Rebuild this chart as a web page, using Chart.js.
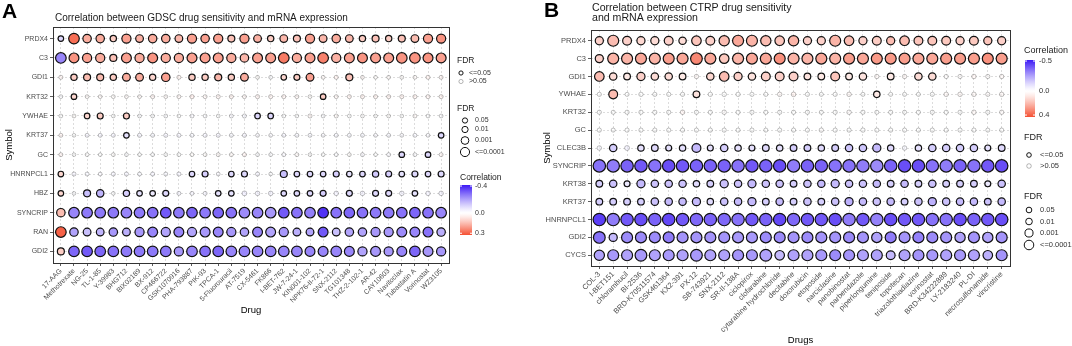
<!DOCTYPE html>
<html>
<head>
<meta charset="utf-8">
<script src="https://cdn.jsdelivr.net/npm/chart.js@4.4.1/dist/chart.umd.min.js"></script>
<style>
  body { margin: 0; background: #fff; }
  #wrap { position: relative; width: 1072px; height: 346px; overflow: hidden; }
  canvas { position: absolute; top: 0; }
</style>
</head>
<body>
<div id="wrap">
  <canvas id="chartA" width="540" height="346" style="left:0"></canvas>
  <canvas id="chartB" width="532" height="346" style="left:540px"></canvas>
</div>
<script>
// ---- panel A : GDSC ----
const drugsA = ['17-AAG', 'Methotrexate', 'NG-25', 'TL-1-85', 'Y-39983', 'BHG712', 'BIX02189', 'BX-912',
  'CP466722', 'GSK1070916', 'PHA-793887', 'PIK-93', 'TPCA-1', '5-Fluorouracil', 'AT-7519', 'CX-5461',
  'FK866', 'I-BET-762', 'JW-7-24-1', 'KIN001-102', 'NPK76-II-72-1', 'SNX-2112', 'TG101348',
  'THZ-2-102-1', 'AR-42', 'CAY10603', 'Navitoclax', 'Tubastatin A', 'Vorinostat', 'WZ3105'];
const genesA = ['PRDX4', 'C3', 'GDI1', 'KRT32', 'YWHAE', 'KRT37', 'GC', 'HNRNPCL1', 'HBZ', 'SYNCRIP', 'RAN', 'GDI2'];

// correlation, one row per gene (same order as genesA)
const corrA = [
  [-0.1,0.28,0.18,0.18,0.12,0.2,0.17,0.18,0.18,0.16, 0.2,0.2,0.2,0.14,0.2,0.17,0.12,0.16,0.14,0.2, 0.16,0.18,0.16,0.12,0.14,0.12,0.14,0.15,0.2,0.22],
  [-0.25,0.22,0.2,0.18,0.14,0.2,0.18,0.22,0.18,0.18, 0.2,0.2,0.2,0.18,0.16,0.2,0.2,0.26,0.18,0.2, 0.25,0.17,0.2,0.22,0.2,0.2,0.22,0.22,0.22,0.2],
  [0.05,0.12,0.15,0.15,0.12,0.18,0.18,0.1,0.2,0.06, 0.12,0.12,0.16,0.12,0.18,0.02,-0.02,0.1,0.12,0.2, 0.03,0.06,0.14,0.04,0.02,0.03,0.02,0.03,0.06,0.05],
  [-0.02,0.1,0.03,0.03,0.02,0.03,0.03,0.05,0.03,0.04, 0.07,0.04,0.05,0.06,0.04,0.05,0.05,0.05,0.04,0.02, 0.12,0.04,0.06,0.06,0.06,0.06,0.06,0.06,0.05,0.06],
  [0,0.02,0.1,0.12,0,0.12,-0.02,-0.01,-0.02,0, -0.03,-0.02,0,-0.03,-0.04,-0.1,-0.1,-0.01,-0.01,0.04, -0.02,0.03,0,0.01,0,0.02,0,0.03,-0.01,-0.02],
  [0.05,0,-0.05,-0.05,-0.05,-0.08,-0.05,-0.04,-0.05,-0.05, -0.04,-0.05,-0.05,-0.04,-0.05,-0.03,-0.03,-0.05,-0.04,-0.04, -0.03,-0.04,-0.04,-0.04,-0.03,-0.04,-0.03,-0.04,-0.03,-0.1],
  [0.05,0,0.01,0,0.02,-0.02,0,-0.01,0,0, 0.02,0.02,0.03,0.03,0.05,-0.02,-0.02,-0.03,0.03,0.01, 0,-0.02,0.02,-0.03,0,-0.03,-0.1,-0.02,-0.1,0.04],
  [0.1,-0.05,-0.04,-0.03,-0.05,-0.05,-0.04,-0.05,-0.04,-0.05, -0.1,-0.12,-0.03,-0.1,-0.1,-0.05,-0.02,-0.15,-0.1,-0.1, -0.1,-0.12,-0.08,-0.1,-0.13,-0.12,-0.08,-0.1,-0.1,-0.1],
  [0.1,-0.02,-0.15,-0.17,-0.01,-0.12,-0.08,-0.06,-0.1,-0.05, -0.05,-0.05,-0.08,-0.08,-0.08,-0.06,-0.06,-0.1,-0.1,-0.1, -0.12,-0.06,-0.1,-0.06,-0.1,-0.1,-0.06,-0.08,-0.06,-0.06],
  [0.15,-0.25,-0.27,-0.27,-0.27,-0.25,-0.27,-0.28,-0.32,-0.27, -0.3,-0.27,-0.3,-0.28,-0.24,-0.25,-0.22,-0.32,-0.28,-0.26, -0.38,-0.28,-0.3,-0.28,-0.27,-0.27,-0.28,-0.3,-0.28,-0.25],
  [0.3,-0.2,-0.15,-0.17,-0.22,-0.18,-0.22,-0.25,-0.2,-0.25, -0.2,-0.22,-0.25,-0.22,-0.2,-0.25,-0.2,-0.22,-0.18,-0.2, -0.32,-0.15,-0.2,-0.2,-0.22,-0.22,-0.24,-0.25,-0.28,-0.18],
  [0.12,-0.3,-0.32,-0.3,-0.28,-0.27,-0.27,-0.27,-0.27,-0.22, -0.25,-0.28,-0.3,-0.25,-0.25,-0.25,-0.25,-0.25,-0.25,-0.25, -0.25,-0.25,-0.25,-0.2,-0.22,-0.22,-0.25,-0.3,-0.22,-0.22]
];
// -log10(FDR), same layout
const logFdrA = [
  [1.5,5,3.5,3.5,2,4,3,3.5,3.5,3, 4,3.5,4,2.5,4,3,2,3,2.5,4, 3,3.5,3,2,2.5,2,2.5,3,4,4],
  [5,4.5,4,4,2.5,4.5,4,4.5,4,4, 4.5,4.5,4.5,4,3.5,4.5,4.5,5,4,4.5, 5,4,4.5,4.5,4.5,4.5,5,5,4.5,4.5],
  [0.5,2,2.5,2.5,2,3,3,2,3.5,0.5, 2,2,2.5,2,3,0.3,0.3,1.5,1.8,3, 0.3,0.5,2.5,0.3,0.2,0.3,0.3,0.3,0.5,0.4],
  [0.3,1.5,0.3,0.3,0.3,0.3,0.3,0.5,0.3,0.4, 0.6,0.4,0.5,0.5,0.4,0.5,0.5,0.5,0.4,0.3, 1.5,0.4,0.5,0.5,0.5,0.5,0.5,0.5,0.5,0.5],
  [0.3,0.3,1.5,1.8,0.2,1.8,0.3,0.3,0.3,0.2, 0.4,0.3,0.2,0.4,0.5,1.5,1.5,0.3,0.2,0.5, 0.3,0.4,0.3,0.3,0.2,0.3,0.2,0.4,0.3,0.3],
  [0.4,0.2,0.4,0.4,0.4,1.5,0.5,0.4,0.5,0.5, 0.4,0.5,0.5,0.4,0.5,0.3,0.3,0.4,0.4,0.4, 0.3,0.4,0.4,0.4,0.3,0.4,0.3,0.4,0.3,1.5],
  [0.4,0.2,0.3,0.2,0.3,0.3,0.2,0.3,0.3,0.3, 0.3,0.3,0.4,0.4,0.5,0.3,0.3,0.4,0.4,0.2, 0.2,0.3,0.3,0.4,0.2,0.4,1.5,0.3,1.5,0.4],
  [1.5,0.5,0.4,0.3,0.5,0.5,0.4,0.5,0.4,0.5, 1.5,1.8,0.3,1.5,1.8,0.5,0.2,2.5,1.5,1.5, 1.5,1.8,1.5,1.5,2,1.8,1.5,1.8,1.5,1.8],
  [1.5,0.2,2.5,2.8,0.2,2,1.5,1.5,1.8,0.4, 0.4,0.4,1.5,1.5,1,0.8,0.8,1.5,1.5,1.5, 1.8,0.8,1.8,0.8,1.8,1.8,0.8,1.5,0.8,0.8],
  [3.5,5,5,5,5,5,5,5,5,5, 5,5,5,5,5,5,5,5,5,5, 5,5,5,5,5,5,5,5,5,5],
  [5,3.5,3,3,3.5,3,4,4.5,4,4.5, 4,4.5,4.5,4,3.5,4.5,4.5,4,3,3, 4.5,3,3.5,3.5,4,4,4.5,4.5,4.5,3.5],
  [2.5,5,5,5,5,5,5,5,5,4, 5,5,5,5,5,5,5,5,5,4.5, 4.5,5,4.5,4,4.5,4,4.5,5,4.5,4]
];

// ---- panel B : CTRP ----
const drugsB = ['COL-3', 'I-BET151', 'chlorambucil', 'BI-2536', 'BRD-K70511574', 'GSK461364', 'KX2-391',
  'PX-12', 'SB-743921', 'SNX-2112', 'SR-II-138A', 'ciclopirox', 'clofarabine', 'cytarabine hydrochloride',
  'decitabine', 'doxorubicin', 'etoposide', 'narciclasine', 'panobinostat', 'parbendazole',
  'piperlongumine', 'teniposide', 'topotecan', 'triazolothiadiazine', 'vorinostat', 'BRD-K34222889',
  'LY-2183240', 'PL-DI', 'necrosulfonamide', 'vincristine'];
const genesB = ['PRDX4', 'C3', 'GDI1', 'YWHAE', 'KRT32', 'GC', 'CLEC3B', 'SYNCRIP', 'KRT38', 'KRT37', 'HNRNPCL1', 'GDI2', 'CYCS'];

const corrB = [
  [0.15,0.2,0.15,0.13,0.12,0.15,0.12,0.18,0.15,0.2, 0.25,0.22,0.2,0.18,0.22,0.15,0.15,0.22,0.2,0.15, 0.16,0.2,0.2,0.18,0.18,0.17,0.15,0.17,0.18,0.15],
  [0.15,0.22,0.22,0.25,0.22,0.27,0.25,0.32,0.25,0.17, 0.22,0.25,0.25,0.3,0.22,0.22,0.25,0.22,0.27,0.25, 0.28,0.28,0.27,0.25,0.25,0.27,0.27,0.27,0.3,0.27],
  [0.2,0.12,0.08,0.15,0.12,0.12,0.08,0.05,0.13,0.2, 0.15,0.1,0.15,0.15,0.15,0.1,0.08,0.18,0.08,0.1, 0.05,0.08,0.05,0.12,0.12,0.02,0.02,0.06,0.02,0.05],
  [0,0.2,0,0,0,0,0,0.1,0,0, 0,0,0,0.05,0.08,0,0,0,0.05,0, 0.08,0,0,0,0,0.05,0.05,0.05,0.03,0.05],
  [0,0,0,0,0,0,0.06,0,0,0.02, 0,0,0,0,0,0,0,0,0.03,0, 0,0,0,0,0,0,0,0.05,0,0.03],
  [0,0,0,0,0,0,0,0,0,0, 0,0,0,0,0,0,0.02,0,0,0, 0,0,0,0,0,0,0,0,0,0],
  [-0.05,-0.15,-0.08,-0.1,-0.12,-0.1,-0.1,-0.2,-0.1,-0.15, -0.1,-0.1,-0.12,-0.1,-0.15,-0.15,-0.12,-0.15,-0.17,-0.17, -0.2,-0.12,-0.05,-0.1,-0.15,-0.15,-0.15,-0.15,-0.1,-0.12],
  [-0.35,-0.33,-0.38,-0.4,-0.35,-0.42,-0.4,-0.38,-0.38,-0.38, -0.35,-0.4,-0.38,-0.42,-0.33,-0.38,-0.38,-0.35,-0.35,-0.33, -0.3,-0.38,-0.42,-0.42,-0.35,-0.33,-0.38,-0.35,-0.4,-0.42],
  [-0.15,-0.18,-0.08,-0.2,-0.18,-0.18,-0.18,-0.12,-0.15,-0.18, -0.18,-0.2,-0.18,-0.18,-0.15,-0.18,-0.2,-0.2,-0.18,-0.18, -0.2,-0.15,-0.2,-0.15,-0.18,-0.15,-0.15,-0.15,-0.08,-0.18],
  [-0.15,-0.15,-0.15,-0.15,-0.18,-0.2,-0.2,-0.2,-0.12,-0.18, -0.2,-0.2,-0.15,-0.2,-0.15,-0.18,-0.15,-0.18,-0.22,-0.2, -0.18,-0.2,-0.15,-0.18,-0.22,-0.18,-0.2,-0.2,-0.18,-0.2],
  [-0.45,-0.33,-0.4,-0.42,-0.38,-0.43,-0.4,-0.37,-0.38,-0.37, -0.35,-0.4,-0.38,-0.43,-0.37,-0.4,-0.4,-0.42,-0.33,-0.4, -0.32,-0.42,-0.4,-0.4,-0.35,-0.35,-0.42,-0.38,-0.4,-0.42],
  [-0.35,-0.2,-0.3,-0.3,-0.3,-0.33,-0.28,-0.28,-0.28,-0.28, -0.27,-0.27,-0.3,-0.3,-0.28,-0.3,-0.28,-0.28,-0.3,-0.28, -0.25,-0.33,-0.28,-0.32,-0.3,-0.28,-0.25,-0.28,-0.25,-0.28],
  [-0.25,-0.27,-0.25,-0.27,-0.25,-0.27,-0.25,-0.27,-0.25,-0.25, -0.28,-0.27,-0.25,-0.2,-0.25,-0.25,-0.27,-0.3,-0.28,-0.25, -0.25,-0.2,-0.25,-0.28,-0.27,-0.25,-0.27,-0.25,-0.22,-0.28]
];
const logFdrB = [
  [3,5,3.5,3,3,3.5,2.5,4,3.5,4.5, 5,5,4.5,4,4.5,3,3,5,4,3, 3.5,3,4,3.5,3.5,3.5,3,3.5,3,3],
  [3,5,5,5,5,5,5,5.5,5,4, 5,5,5,5,5,5,5,5,5,5, 5,5,5,5,5,5,5,5,5,5],
  [4,2.5,2,3,2.5,2.5,2,0.4,2.5,4, 3,2.5,3.5,3.5,3.5,2,2,3.5,2,2.5, 0.4,2,0.4,2.5,2.5,0.3,0.3,0.5,0.3,0.4],
  [0.3,3.5,0.2,0.4,0.3,0.3,0.3,2,0.4,0.5, 0.4,0.3,0.3,0.5,0.6,0.3,0.2,0.3,0.5,0.2, 1.8,0.2,0.2,0.2,0.3,0.5,0.5,0.5,0.3,0.5],
  [0.3,0.2,0.3,0.3,0.3,0.3,0.5,0.3,0.3,0.5, 0.3,0.3,0.3,0.3,0.3,0.3,0.2,0.3,0.5,0.3, 0.2,0.3,0.2,0.3,0.3,0.3,0.3,0.5,0.3,0.4],
  [0.3,0.2,0.3,0.3,0.3,0.3,0.3,0.3,0.3,0.3, 0.3,0.3,0.2,0.3,0.3,0.3,0.4,0.3,0.3,0.4, 0.3,0.3,0.3,0.3,0.3,0.3,0.3,0.3,0.2,0.3],
  [0.5,2.5,0.8,1.8,2,1.5,1.8,3.5,1.5,2.5, 1.8,1.5,2,1.8,2,2,1.8,2,2.5,2.5, 3,1.8,0.5,1.8,2.5,2.5,2.5,2.5,1.5,2],
  [6,6,6,6,6,6,6,6,6,6, 6,6,6,6,6,6,6,6,6,6, 6,6,6,6,6,6,6,6,6,6],
  [2,2.5,1.5,3,2.5,2.5,2.5,1.8,2,3, 2.5,3,2.5,2.5,2,2.5,2.5,3,2.5,2.5, 2.5,2,2.5,2,2.5,2,2,2,1.5,2.5],
  [2,2,2,2,2.5,2.5,2.5,3,1.8,2.5, 2.5,3,2,2.5,2,2.5,2,2.5,3,2.5, 2.5,2.5,2,2.5,3,2.5,2.5,2.5,2,2.5],
  [6,6,6,6,6,6,6,6,6,6, 6,6,6,6,6,6,6,6,6,6, 6,6,6,6,6,6,6,6,6,6],
  [5.5,3,5,5,5,5,5,5,5,5, 5,5,5,5,5,5,5,5,5,5, 4.5,5,5,5,5,5,4.5,5,4.5,5],
  [4.5,5,5,5.5,5,5,5,5.5,5,5, 5,5,5.5,4,5,5,5,5,5,5, 5,3.5,5,5,5,5,5,5,4,5]
];

const FONT = "'Liberation Sans', Arial, sans-serif";
const sizeLegend = [1.3, 2, 3, 4];   // -log10 of 0.05, 0.01, 0.001, 0.0001
const sizeLabels = ['0.05', '0.01', '0.001', '<=0.0001'];

// colour scale: blue (negative) - white - red (positive)
function corrColor(v, lim, alpha) {
  let base, t;
  if (v < 0) { base = [60, 25, 245]; t = Math.min(1, v / lim[0]); }
  else { base = [245, 80, 50]; t = Math.min(1, v / lim[1]); }
  t = Math.pow(t, 1.25);
  const c = base.map(b => Math.round(255 + (b - 255) * t));
  return 'rgba(' + c[0] + ',' + c[1] + ',' + c[2] + ',' + alpha + ')';
}

function buildPoints(drugs, genes, corr, logFdr, rad) {
  const pts = [];
  genes.forEach((g, i) => {
    drugs.forEach((d, j) => {
      const lf = logFdr[i][j];
      pts.push({ x: j, y: i, r: rad(lf), cor: corr[i][j], sig: lf >= 1.3 });
    });
  });
  return pts;
}

function txt(ctx, s, x, y, size, color, align, base, bold) {
  ctx.font = (bold ? 'bold ' : '') + size + 'px ' + FONT;
  ctx.fillStyle = color;
  ctx.textAlign = align || 'left';
  ctx.textBaseline = base || 'alphabetic';
  ctx.fillText(s, x, y);
}

function circle(ctx, x, y, r, stroke, fill) {
  ctx.beginPath();
  ctx.arc(x, y, r, 0, Math.PI * 2);
  ctx.fillStyle = fill || '#fff';
  ctx.fill();
  ctx.lineWidth = 1;
  ctx.strokeStyle = stroke;
  ctx.stroke();
}

function colorBar(ctx, x, y0, w, h, lim, ticks, labelX, fs) {
  const g = ctx.createLinearGradient(0, y0, 0, y0 + h);
  for (let k = 0; k <= 40; k++) {
    const v = lim[0] + (lim[1] - lim[0]) * k / 40;
    g.addColorStop(k / 40, corrColor(v, lim, 1));
  }
  ctx.fillStyle = g;
  ctx.fillRect(x, y0, w, h);
  ticks.forEach(tk => {
    const y = y0 + (tk[0] - lim[0]) / (lim[1] - lim[0]) * h;
    ctx.strokeStyle = '#fff';
    ctx.lineWidth = 1;
    ctx.beginPath();
    ctx.moveTo(x, y); ctx.lineTo(x + 2, y);
    ctx.moveTo(x + w - 2, y); ctx.lineTo(x + w, y);
    ctx.stroke();
    txt(ctx, tk[1], labelX, y, fs, '#333', 'left', 'middle');
  });
}

function makeChart(id, drugs, genes, corr, logFdr, cfg) {
  const pts = buildPoints(drugs, genes, corr, logFdr, cfg.rad);
  const style = {
    backgroundColor: c => corrColor(c.raw.cor, cfg.lim, c.raw.sig ? 1 : 0.45),
    borderColor: c => c.raw.sig ? '#111' : 'rgba(0,0,0,0.28)',
    borderWidth: c => c.raw.sig ? 1.2 : 0.9,
    clip: false
  };
  const grid = { color: '#d4d4d4', lineWidth: 0.8, tickLength: 3, tickColor: '#333', drawTicks: true };
  return new Chart(document.getElementById(id), {
    type: 'bubble',
    data: {
      datasets: [
        Object.assign({ data: pts.filter(p => !p.sig) }, style),
        Object.assign({ data: pts.filter(p => p.sig) }, style)
      ]
    },
    options: {
      responsive: false,
      animation: false,
      events: [],
      layout: { padding: { top: cfg.top, right: cfg.right, left: 0, bottom: 0 } },
      plugins: { legend: { display: false }, tooltip: { enabled: false } },
      scales: {
        x: {
          type: 'linear', min: -0.6, max: drugs.length - 0.4,
          afterBuildTicks: s => { s.ticks = drugs.map((d, i) => ({ value: i })); },
          afterFit: s => { s.height = cfg.xH; },
          grid: grid,
          border: { display: false, dash: [2, 2] },
          ticks: {
            autoSkip: false, minRotation: 45, maxRotation: 45, padding: 1,
            font: { family: FONT, size: cfg.tickSize }, color: '#4d4d4d',
            callback: v => drugs[v]
          }
        },
        y: {
          type: 'linear', reverse: true, min: -0.6, max: genes.length - 0.4,
          afterBuildTicks: s => { s.ticks = genes.map((g, i) => ({ value: i })); },
          afterFit: s => { s.width = cfg.yW; },
          grid: grid,
          border: { display: false, dash: [2, 2] },
          ticks: {
            autoSkip: false, padding: 2,
            font: { family: FONT, size: cfg.tickSize }, color: '#4d4d4d',
            callback: v => genes[v]
          }
        }
      }
    },
    plugins: [{
      id: 'decor' + id,
      afterDraw(chart) {
        const ctx = chart.ctx, a = chart.chartArea;
        ctx.save();
        ctx.strokeStyle = '#333';
        ctx.lineWidth = 1;
        ctx.strokeRect(Math.round(a.left) + 0.5, Math.round(a.top) + 0.5,
          Math.round(a.right - a.left), Math.round(a.bottom - a.top));
        cfg.decor(ctx, a);
        ctx.restore();
      }
    }]
  });
}

const radA = lf => 1.7 + 0.72 * Math.min(lf, 5);
const radB = lf => 1.9 + 0.72 * Math.min(lf, 6);
const limA = [-0.415, 0.326];
const limB = [-0.517, 0.433];

makeChart('chartA', drugsA, genesA, corrA, logFdrA, {
  rad: radA, lim: limA, top: 27, right: 91, xH: 83, yW: 53, tickSize: 7,
  decor(ctx, a) {
    txt(ctx, 'A', 2, 18, 21, '#000', 'left', 'alphabetic', true);
    txt(ctx, 'Correlation between GDSC drug sensitivity and mRNA expression', 55, 20.5, 10, '#1a1a1a');
    ctx.save();
    ctx.translate(9, (a.top + a.bottom) / 2);
    ctx.rotate(-Math.PI / 2);
    txt(ctx, 'Symbol', 0, 0, 9.5, '#000', 'center', 'middle');
    ctx.restore();
    txt(ctx, 'Drug', (a.left + a.right) / 2, 310, 9.5, '#000', 'center', 'middle');
    // FDR (significance)
    txt(ctx, 'FDR', 457, 63, 8.5, '#222');
    circle(ctx, 461, 73, 2.1, '#111');
    txt(ctx, '<=0.05', 469, 73, 7, '#333', 'left', 'middle');
    circle(ctx, 461, 81.5, 2.1, 'rgba(0,0,0,0.28)');
    txt(ctx, '>0.05', 469, 81.5, 7, '#333', 'left', 'middle');
    // FDR (size)
    txt(ctx, 'FDR', 457, 111, 8.5, '#222');
    const ys = [120.5, 129.5, 140.5, 152];
    sizeLegend.forEach((lf, k) => {
      circle(ctx, 465, ys[k], radA(lf), '#111');
      txt(ctx, sizeLabels[k], 475, ys[k], 7, '#333', 'left', 'middle');
    });
    // Correlation
    txt(ctx, 'Correlation', 460, 180, 8.5, '#222');
    colorBar(ctx, 460, 185, 12, 50, limA, [[-0.4, '-0.4'], [0, '0.0'], [0.3, '0.3']], 475, 7);
  }
});

makeChart('chartB', drugsB, genesB, corrB, logFdrB, {
  rad: radB, lim: limB, top: 30, right: 62, xH: 80, yW: 51, tickSize: 7.5,
  decor(ctx, a) {
    txt(ctx, 'B', 4, 17, 21, '#000', 'left', 'alphabetic', true);
    txt(ctx, 'Correlation between CTRP drug sensitivity', 52, 10.5, 10.6, '#1a1a1a');
    txt(ctx, 'and mRNA expression', 52, 21, 10.6, '#1a1a1a');
    ctx.save();
    ctx.translate(7, (a.top + a.bottom) / 2);
    ctx.rotate(-Math.PI / 2);
    txt(ctx, 'Symbol', 0, 0, 9.5, '#000', 'center', 'middle');
    ctx.restore();
    txt(ctx, 'Drugs', (a.left + a.right) / 2, 340, 9.5, '#000', 'center', 'middle');
    // Correlation
    txt(ctx, 'Correlation', 484, 53, 9, '#222');
    colorBar(ctx, 485, 60, 10, 57, limB, [[-0.5, '-0.5'], [0, '0.0'], [0.4, '0.4']], 499, 7.5);
    // FDR (significance)
    txt(ctx, 'FDR', 484, 140, 9, '#222');
    circle(ctx, 489, 155, 2.3, '#111');
    txt(ctx, '<=0.05', 500, 155, 7.5, '#333', 'left', 'middle');
    circle(ctx, 489, 166, 2.3, 'rgba(0,0,0,0.28)');
    txt(ctx, '>0.05', 500, 166, 7.5, '#333', 'left', 'middle');
    // FDR (size)
    txt(ctx, 'FDR', 484, 198.5, 9, '#222');
    const ys = [210, 221.5, 233, 245];
    sizeLegend.forEach((lf, k) => {
      circle(ctx, 489, ys[k], radB(lf), '#111');
      txt(ctx, sizeLabels[k], 500, ys[k], 7.5, '#333', 'left', 'middle');
    });
  }
});
</script>
</body>
</html>
